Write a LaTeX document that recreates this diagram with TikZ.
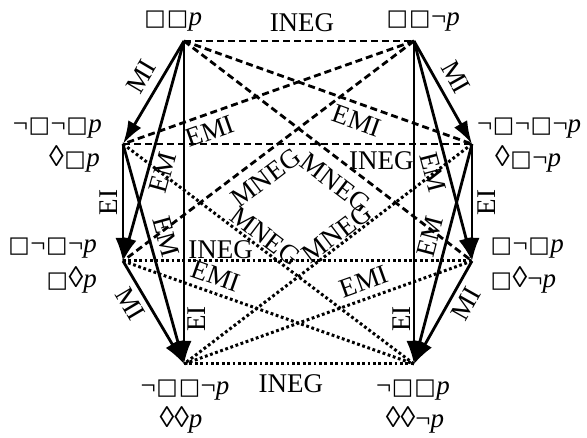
\documentclass[tikz,border=0pt]{standalone}
\usepackage{fontspec}
\usepackage{graphicx}
\setmainfont{Liberation Serif}
\newfontfamily\symf{DejaVu Sans}
\newcommand\bx{\kern0.5pt\scalebox{0.84}{\symf □}\kern0.5pt}
\newcommand\lz{\scalebox{1.1}{◊}}
\usetikzlibrary{arrows.meta}
\begin{document}
\begin{tikzpicture}[x=1pt,y=-1pt,
  lab/.style={font=\fontsize{27}{30}\selectfont, inner sep=3.5pt},
  vlab/.style={font=\fontsize{27}{30}\selectfont, inner sep=0pt},
  impl/.style={line width=2.8pt, -{Latex[length=23pt,width=15pt]}},
  contr/.style={line width=2.8pt, dash pattern=on 7pt off 4pt},
  subc/.style={line width=3pt, dash pattern=on 2.8pt off 2.6pt},
]
\useasboundingbox (0,0) rectangle (587,438);
\coordinate (A) at (184,41);
\coordinate (B) at (414,41);
\coordinate (C) at (123,144);
\coordinate (D) at (472,144);
\coordinate (E) at (123,261);
\coordinate (F) at (472,261);
\coordinate (G) at (184,364);
\coordinate (H) at (414,364);

% contraries (dashed)
\draw[contr] (A) -- node[lab,above=4pt,pos=0.513] (l1) {INEG} (B);
\draw[contr] (B) -- node[lab,sloped,below=3pt,pos=0.72] (l2) {EMI} (C);
\draw[contr] (A) -- node[lab,sloped,below=3pt,pos=0.62] (l3) {EMI} (D);
\draw[contr] (C) -- node[lab,below=3pt,pos=0.74] (l4) {INEG} (D);
\draw[contr] (B) -- node[lab,sloped,below=6pt,pos=0.55] (l5) {MNEG} (E);
\draw[contr] (A) -- node[lab,sloped,below=7pt,pos=0.57] (l6) {MNEG} (F);
% subcontraries (dotted)
\draw[subc] (E) -- node[lab,above=-3pt,pos=0.28] (l7) {INEG} (F);
\draw[subc] (G) -- node[lab,below=6pt,pos=0.465] (l8) {INEG} (H);
\draw[subc] (C) -- node[lab,sloped,above=-2pt,pos=0.464] (l9) {MNEG} (H);
\draw[subc] (D) -- node[lab,sloped,above=-3pt,pos=0.446] (l10) {MNEG} (G);
\draw[subc] (E) -- node[lab,sloped,above=3pt,pos=0.30] (l11) {EMI} (H);
\draw[subc] (F) -- node[lab,sloped,above=3pt,pos=0.356] (l12) {EMI} (G);

% implications (solid arrows)
\draw[impl] (A) -- node[lab,sloped,above=5pt,pos=0.44] (m1) {MI} (C);
\draw[impl] (A) -- node[lab,sloped,below=1pt,pos=0.58] (m2) {EM} (E);
\draw[impl] (A) -- node[lab,rotate=90,anchor=north,inner sep=2pt,pos=0.86] (m3) {EI} (G);
\draw[impl] (C) -- node[lab,rotate=90,anchor=south,inner sep=4pt,pos=0.5] (m4) {EI} (E);
\draw[impl] (C) -- node[lab,sloped,above=3pt,pos=0.44] (m5) {EM} (G);
\draw[impl] (E) -- node[lab,sloped,below=2pt,pos=0.34] (m6) {MI} (G);
\draw[impl] (B) -- node[lab,sloped,above=5pt,pos=0.44] (n1) {MI} (D);
\draw[impl] (B) -- node[lab,sloped,below=1pt,pos=0.58] (n2) {EM} (F);
\draw[impl] (B) -- node[lab,rotate=90,anchor=south,inner sep=2pt,pos=0.86] (n3) {EI} (H);
\draw[impl] (D) -- node[lab,rotate=90,anchor=north,inner sep=4pt,pos=0.5] (n4) {EI} (F);
\draw[impl] (D) -- node[lab,sloped,above=3pt,pos=0.44] (n5) {EM} (H);
\draw[impl] (F) -- node[lab,sloped,below=2pt,pos=0.34] (n6) {MI} (H);

% vertex formulas
\node[vlab,anchor=base] (fa) at (173,26) {\bx\bx\textit{p}};
\node[vlab,anchor=base] (fb) at (423,26) {\bx\bx¬\textit{p}};
\node[vlab,anchor=base east] (fc1) at (102,133) {¬\bx¬\bx\textit{p}};
\node[vlab,anchor=base east] (fc2) at (100,167) {\lz\bx\textit{p}};
\node[vlab,anchor=base west] (fd1) at (477,133) {¬\bx¬\bx¬\textit{p}};
\node[vlab,anchor=base west] (fd2) at (495,167) {\lz\bx¬\textit{p}};
\node[vlab,anchor=base east] (fe1) at (97,253) {\bx¬\bx¬\textit{p}};
\node[vlab,anchor=base east] (fe2) at (97,288) {\bx\lz\textit{p}};
\node[vlab,anchor=base west] (ff1) at (490,253) {\bx¬\bx\textit{p}};
\node[vlab,anchor=base west] (ff2) at (490,288) {\bx\lz¬\textit{p}};
\node[vlab,anchor=base] (fg1) at (185,395) {¬\bx\bx¬\textit{p}};
\node[vlab,anchor=base] (fg2) at (181,428) {\lz\lz\textit{p}};
\node[vlab,anchor=base] (fh1) at (413,395) {¬\bx\bx\textit{p}};
\node[vlab,anchor=base] (fh2) at (415,428) {\lz\lz¬\textit{p}};
\end{tikzpicture}
\end{document}
